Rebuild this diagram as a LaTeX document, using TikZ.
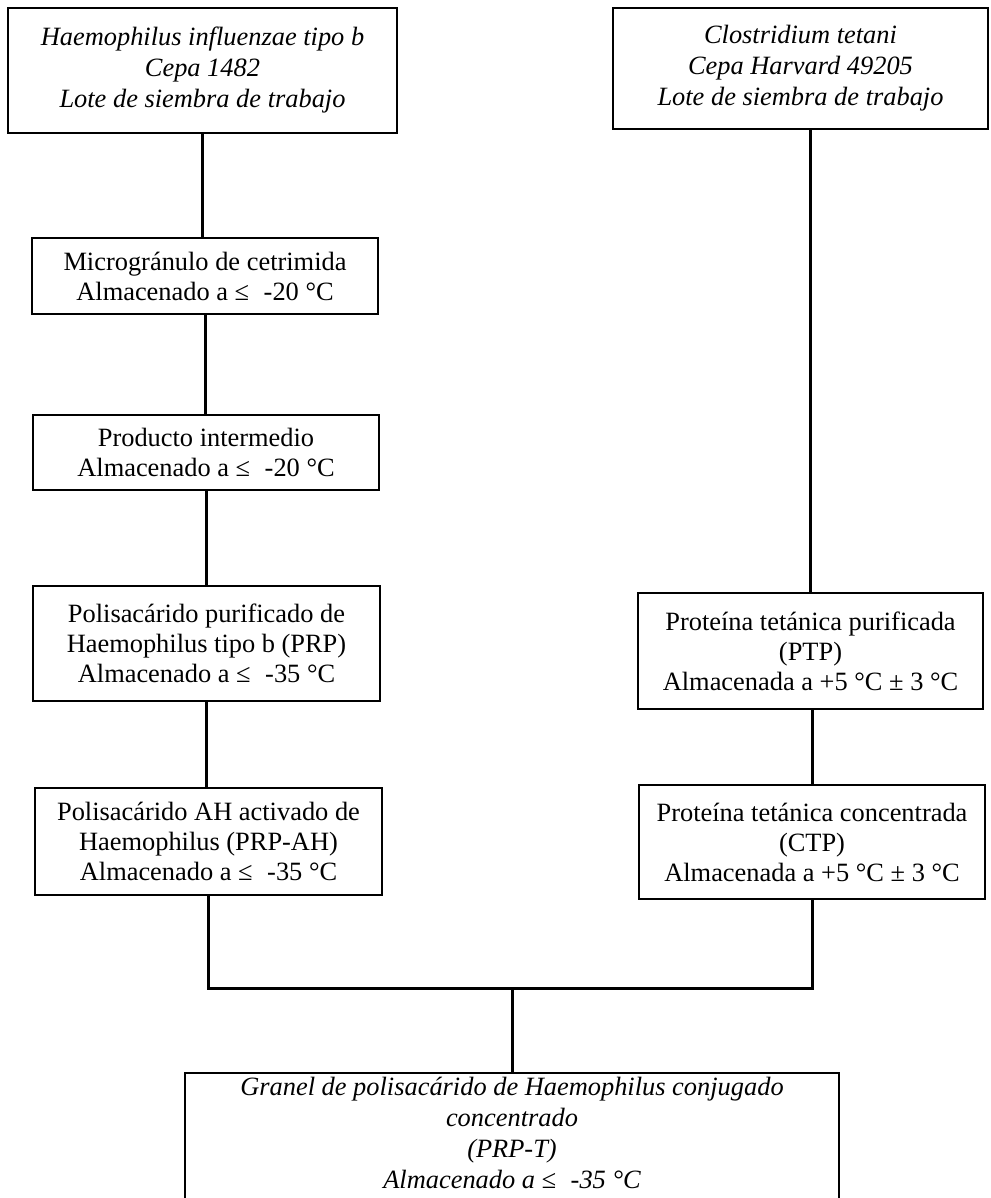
\documentclass[tikz,border=0pt]{standalone}
\usepackage{fontspec}
\setmainfont{Liberation Serif}
\begin{document}
\begin{tikzpicture}[x=0.5pt,y=-0.5pt,
  box/.style={draw=black, line width=0.8pt, align=center, inner sep=1pt, font=\fontsize{13.2}{15}\selectfont},
  ibox/.style={box, font=\fontsize{13.2}{15.5}\selectfont\itshape},
  link/.style={draw=black, line width=1.5pt}]
\path[use as bounding box] (0,0) rectangle (990,1198);
\clip (0,0) rectangle (990,1198);
\fill[white] (0,0) rectangle (990,1198);

\node[ibox, minimum width=194.5pt, minimum height=62.5pt] (b1) at (202.5,70.5)
  {Haemophilus influenzae tipo b\\Cepa 1482\\Lote de siembra de trabajo};
\node[ibox, minimum width=187.5pt, minimum height=60.5pt] (b2) at (800.5,68.5)
  {Clostridium tetani\\Cepa Harvard 49205\\Lote de siembra de trabajo};
\node[box, minimum width=173pt, minimum height=38pt] (b3) at (205,276)
  {Microgránulo de cetrimida\\Almacenado a ≤\hspace{0.55em}-20 °C};
\node[box, minimum width=173pt, minimum height=37.5pt] (b4) at (206,452.5)
  {Producto intermedio\\Almacenado a ≤\hspace{0.55em}-20 °C};
\node[box, minimum width=173.5pt, minimum height=57.5pt] (b5) at (206.5,643.5)
  {Polisacárido purificado de\\Haemophilus tipo b (PRP)\\Almacenado a ≤\hspace{0.55em}-35 °C};
\node[box, minimum width=173.5pt, minimum height=53.5pt] (b6) at (208.5,841.5)
  {Polisacárido AH activado de\\Haemophilus (PRP-AH)\\Almacenado a ≤\hspace{0.55em}-35 °C};
\node[box, minimum width=172.5pt, minimum height=58pt] (b7) at (810.5,651)
  {Proteína tetánica purificada\\(PTP)\\Almacenada a +5 °C ± 3 °C};
\node[box, minimum width=173pt, minimum height=57pt] (b8) at (812,842)
  {Proteína tetánica concentrada\\(CTP)\\Almacenada a +5 °C ± 3 °C};
\node[ibox, minimum width=327pt, inner ysep=2pt, anchor=north] (b9) at (512,1072)
  {Granel de polisacárido de Haemophilus conjugado\\concentrado\\(PRP-T)\\Almacenado a ≤\hspace{0.55em}-35 °C\rule[-16pt]{0pt}{16pt}};

\draw[link] (b1.south) -- (b1.south |- b3.north);
\draw[link] (b3.south) -- (b3.south |- b4.north);
\draw[link] (b4.south) -- (b4.south |- b5.north);
\draw[link] (b5.south) -- (b5.south |- b6.north);
\draw[link] (b7.north |- b2.south) -- (b7.north);
\draw[link] (b8.north) -- (b8.north |- b7.south);
\coordinate (m) at (512,988);
\draw[link] (b6.south) |- (m) -| (b8.south);
\draw[link] (m) -- (b9.north);
\end{tikzpicture}
\end{document}
